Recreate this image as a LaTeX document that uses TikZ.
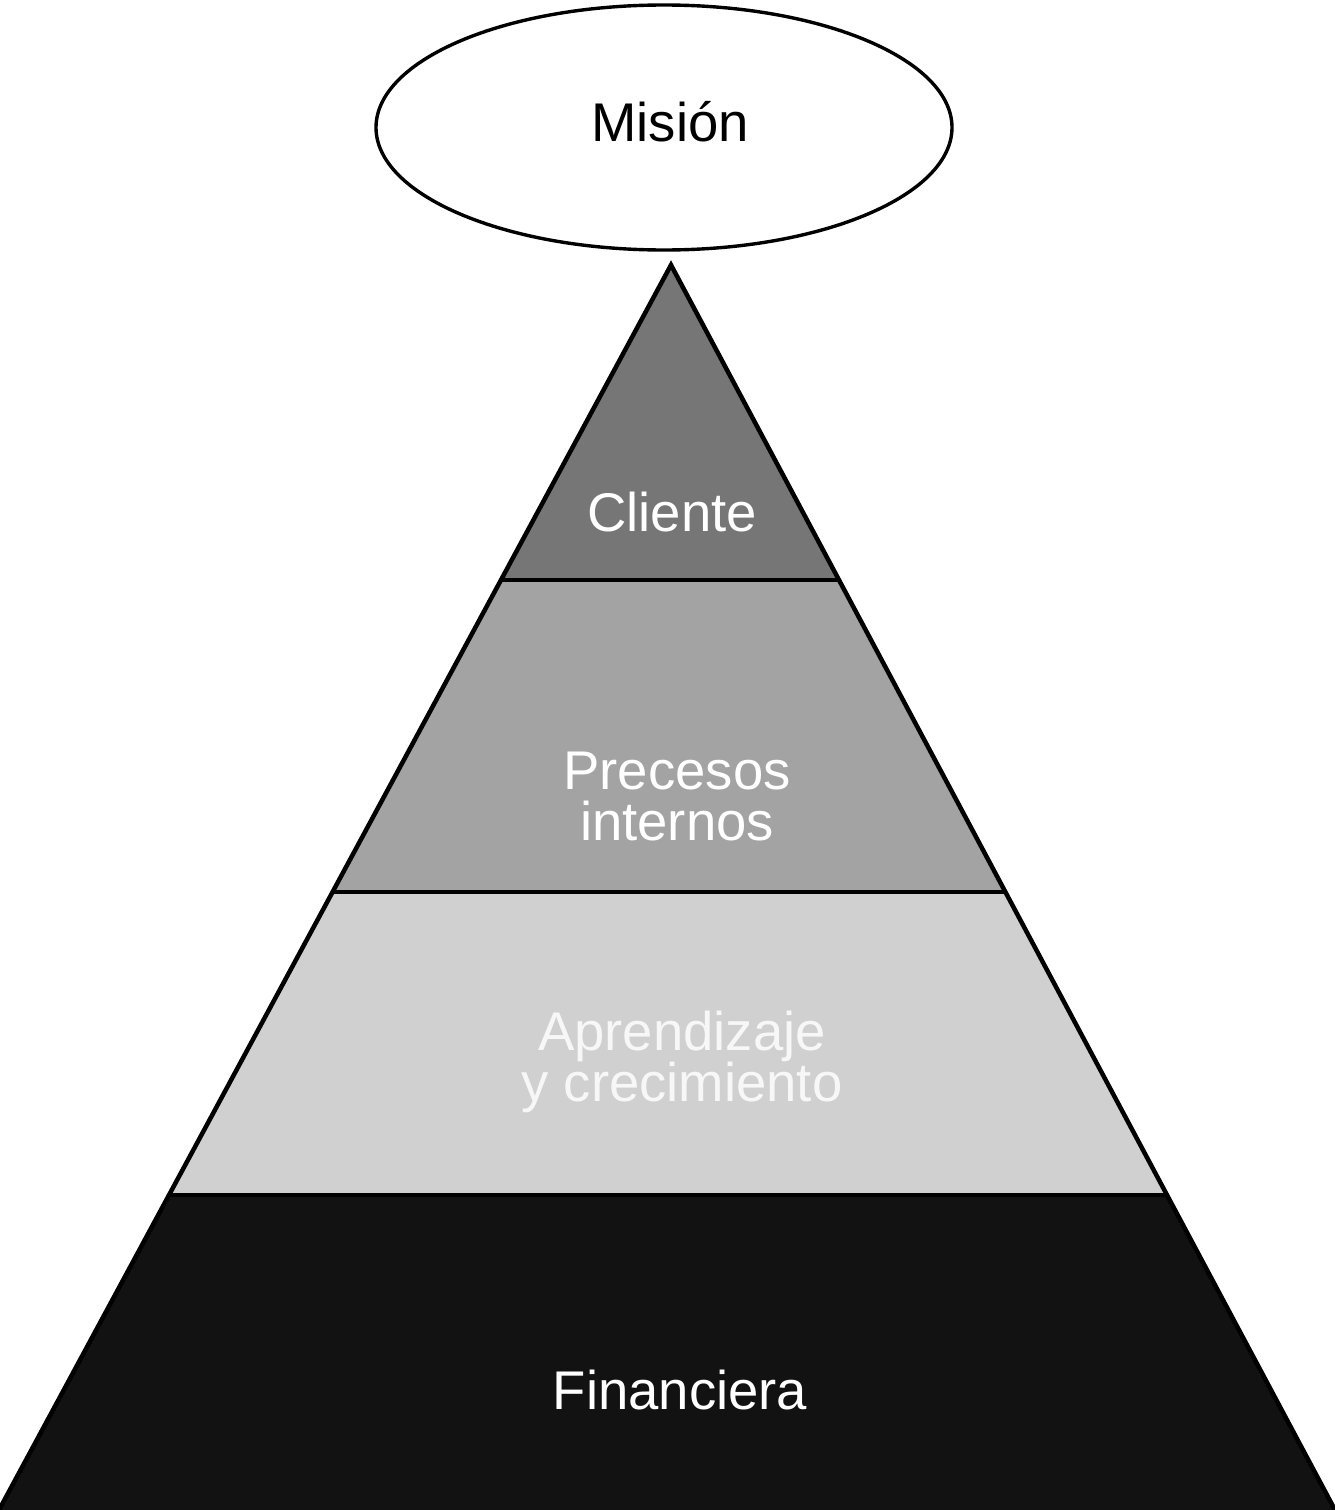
\documentclass[tikz,border=0pt]{standalone}
\usepackage{fontspec}
\setmainfont{Liberation Sans}
\usetikzlibrary{calc,shapes.geometric}
\definecolor{bandA}{HTML}{767676}
\definecolor{bandB}{HTML}{A3A3A3}
\definecolor{bandC}{HTML}{D0D0D0}
\definecolor{bandD}{HTML}{121212}
\tikzset{
  lbl/.style={text=white,font=\fontsize{54.5}{51}\selectfont,align=center,inner sep=0pt},
  divider/.style={line width=3.4pt,black},
}
\begin{document}
\begin{tikzpicture}[x=1pt,y=-1pt]
\useasboundingbox (0,0) rectangle (1334,1510);
\coordinate (A) at (671,265);
\coordinate (L) at (-1,1510);
\coordinate (R) at (1335,1510);
\coordinate (l1) at ($(A)!0.2530!(L)$);
\coordinate (r1) at ($(A)!0.2530!(R)$);
\coordinate (l2) at ($(A)!0.5036!(L)$);
\coordinate (r2) at ($(A)!0.5036!(R)$);
\coordinate (l3) at ($(A)!0.7470!(L)$);
\coordinate (r3) at ($(A)!0.7470!(R)$);
% bands
\fill[bandA] (A) -- (l1) -- (r1) -- cycle;
\fill[bandB] (l1) -- (l2) -- (r2) -- (r1) -- cycle;
\fill[bandC] (l2) -- (l3) -- (r3) -- (r2) -- cycle;
\fill[bandD] (l3) -- (L) -- (R) -- (r3) -- cycle;
\draw[divider] (l1) -- (r1);
\draw[divider] (l2) -- (r2);
\draw[divider] (l3) -- (r3);
\draw[line width=4.5pt,line join=miter] (L) -- (A) -- (R);
% mission
\node[ellipse,draw,line width=3.4pt,minimum width=576pt,minimum height=245pt,inner sep=0pt] (mision) at (664,127.5) {};
\node[lbl,text=black] (misiontxt) at (670,122) {Misión};
% labels
\node[lbl] (cliente) at (672,512) {Cliente};
\node[lbl] (procesos) at (677,797) {Precesos\\internos};
\node[lbl,text=white!97!black] (aprend) at (682,1062) {Aprendizaje\\y crecimiento};
\node[lbl] (fin) at (680,1390) {Financiera};
\end{tikzpicture}
\end{document}
